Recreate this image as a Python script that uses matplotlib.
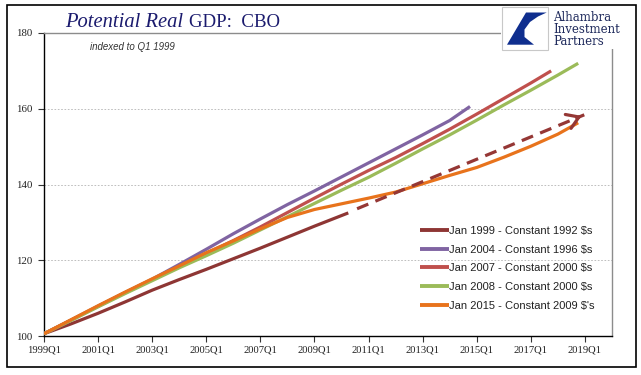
import matplotlib
matplotlib.use("Agg")
import matplotlib.pyplot as plt
from matplotlib.patches import Rectangle, Polygon, FancyArrowPatch

# ---------------- data (quarter index: 0 = 1999Q1) ----------------
tick_idx = [0, 8, 16, 24, 32, 40, 48, 56, 64, 72, 80]
tick_labels = ["1999Q1", "2001Q1", "2003Q1", "2005Q1", "2007Q1", "2009Q1",
               "2011Q1", "2013Q1", "2015Q1", "2017Q1", "2019Q1"]
y_ticks = [100, 120, 140, 160, 180]

x_1999 = [0, 4, 8, 12, 16, 20, 24, 28, 32, 36, 40, 45]
v_1999 = [100.6, 103.2, 106.0, 109.0, 112.1, 114.9, 117.6, 120.4, 123.2, 126.1, 129.0, 132.5]

x_2004 = [0, 4, 8, 12, 16, 20, 24, 28, 32, 36, 40, 44, 48, 52, 56, 60, 63]
v_2004 = [100.6, 104.2, 107.9, 111.5, 115.0, 118.9, 122.9, 127.0, 130.9, 134.7, 138.3,
          142.0, 145.7, 149.4, 153.1, 156.9, 160.6]

x_2007 = [0, 4, 8, 12, 16, 20, 24, 28, 32, 36, 40, 44, 48, 52, 56, 60, 64, 68, 72, 75]
v_2007 = [100.6, 104.2, 107.8, 111.4, 114.9, 118.3, 121.8, 125.2, 128.8, 132.6, 136.4,
          140.1, 143.7, 147.1, 150.8, 154.6, 158.6, 162.7, 166.8, 170.0]

x_2008 = [0, 4, 8, 12, 16, 20, 24, 28, 32, 36, 40, 44, 48, 52, 56, 60, 64, 68, 72, 76, 79]
v_2008 = [100.6, 104.1, 107.7, 111.2, 114.6, 118.0, 121.2, 124.5, 128.0, 131.5, 135.0,
          138.5, 141.9, 145.6, 149.4, 153.1, 157.0, 161.0, 164.9, 168.9, 172.0]

x_2015 = [0, 4, 8, 12, 16, 20, 24, 28, 32, 36, 40, 44, 48, 52, 56, 60, 64, 68, 72, 76, 79]
v_2015 = [100.6, 104.3, 108.0, 111.6, 115.1, 118.5, 122.0, 125.1, 128.3, 131.3, 133.4,
          134.9, 136.4, 138.0, 140.2, 142.4, 144.5, 147.2, 150.1, 153.3, 156.3]

# dashed extrapolation arrow of the Jan 1999 trend
arrow_x = [46.3, 79.9]
arrow_y = [133.6, 158.4]

labels = ["Jan 1999 - Constant 1992 $s", "Jan 2004 - Constant 1996 $s",
          "Jan 2007 - Constant 2000 $s", "Jan 2008 - Constant 2000 $s",
          "Jan 2015 - Constant 2009 $'s"]
colors = ["#8E3634", "#8064A2", "#C0504D", "#9BBB59", "#E8731C"]

# ---------------- figure ----------------
W, H = 641, 375
fig = plt.figure(figsize=(W / 100, H / 100), dpi=100)
fig.patch.set_facecolor("white")

def fx(px):
    return px / W

def fy(py):
    return 1 - py / H

ax = fig.add_axes([fx(44), fy(336), fx(612) - fx(44), fy(33) - fy(336)])

series = [(x_1999, v_1999), (x_2004, v_2004), (x_2007, v_2007),
          (x_2008, v_2008), (x_2015, v_2015)]
for (xs, vs), c, lab in zip(series, colors, labels):
    ax.plot(xs, vs, color=c, lw=2.3, label=lab, solid_capstyle="butt", zorder=3)

# dashed arrow
ax.plot(arrow_x, arrow_y, color="#953735", lw=2.3, linestyle=(0, (3.8, 2.4)),
        zorder=3, dash_capstyle="butt")
head = FancyArrowPatch((arrow_x[1] - 1.5, arrow_y[1] - 1.1), (arrow_x[1], arrow_y[1]),
                       arrowstyle="->,head_length=0.7,head_width=0.45",
                       mutation_scale=12, color="#953735", lw=2.3, zorder=4)
ax.add_patch(head)

ax.set_xlim(0, 84)
ax.set_ylim(100, 180)
ax.set_xticks(tick_idx)
ax.set_xticklabels(tick_labels, family="Liberation Serif", fontsize=7.6, color="#222222")
ax.set_yticks(y_ticks)
ax.set_yticklabels([str(v) for v in y_ticks], family="Liberation Serif", fontsize=7.8,
                   color="#222222")
ax.tick_params(axis="both", direction="out", length=4, width=0.8, color="#333333")
ax.tick_params(axis="y", pad=4.5)
ax.tick_params(axis="x", pad=2.5)

for gy in [120, 140, 160]:
    ax.axhline(gy, color="#B4B4B4", lw=0.6, linestyle=(0, (2.0, 2.0)), zorder=1)

ax.spines["left"].set_color("black")
ax.spines["left"].set_linewidth(1.0)
ax.spines["bottom"].set_color("black")
ax.spines["bottom"].set_linewidth(1.0)
ax.spines["top"].set_color("#8C8C8C")
ax.spines["top"].set_linewidth(1.0)
ax.spines["right"].set_color("#8C8C8C")
ax.spines["right"].set_linewidth(1.0)

# legend
leg = ax.legend(loc="upper left", bbox_to_anchor=(fx(420), fy(226)),
                bbox_transform=fig.transFigure, frameon=False,
                prop={"family": "Liberation Sans", "size": 8},
                handlelength=2.6, handletextpad=0.05, labelspacing=0.78,
                borderpad=0, borderaxespad=0)
for t in leg.get_texts():
    t.set_color("#222222")
for h in leg.get_lines():
    h.set_linewidth(2.8)

# title
fig.text(fx(65), fy(27), "Potential Real", family="Liberation Serif", style="italic",
         fontsize=14.8, color="#1B1B6E", va="baseline", ha="left")
fig.text(fx(189), fy(27), "GDP:  CBO", family="Liberation Serif",
         fontsize=13.6, color="#1B1B6E", va="baseline", ha="left")

# subtitle note
fig.text(fx(90), fy(46.5), "indexed to Q1 1999", family="Liberation Sans", style="italic",
         fontsize=7, color="#333333", va="center", ha="left")

# logo area (white patch covering frame corner)
fig.patches.append(Rectangle((fx(501), fy(49)), fx(633) - fx(501), fy(6) - fy(49),
                             transform=fig.transFigure, facecolor="white",
                             edgecolor="none", zorder=5))
fig.patches.append(Rectangle((fx(501.7), fy(49.7)), fx(547.7) - fx(501.7),
                             fy(7) - fy(49.7), transform=fig.transFigure,
                             facecolor="white", edgecolor="#C8C8C8", lw=0.8, zorder=6))
logo_pts = [(526.0, 12.5), (546.7, 12.5), (538, 16.5), (530, 22), (524.5, 29.5),
            (524.5, 37), (534, 44.7), (507.0, 44.7)]
fig.patches.append(Polygon([(fx(a), fy(b)) for a, b in logo_pts], closed=True,
                           transform=fig.transFigure, facecolor="#0F2E8E",
                           edgecolor="none", zorder=7))
for txt, base in [("Alhambra", 21), ("Investment", 33), ("Partners", 44.7)]:
    fig.text(fx(553), fy(base), txt, family="DejaVu Serif", fontsize=8.5,
             color="#1F2A5C", va="baseline", ha="left", zorder=8)

# outer border
fig.patches.append(Rectangle((fx(7), fy(367)), fx(636) - fx(7), fy(5) - fy(367),
                             transform=fig.transFigure, facecolor="none",
                             edgecolor="black", lw=1.2, zorder=9))

fig.savefig("out.png", dpi=100, facecolor="white")
